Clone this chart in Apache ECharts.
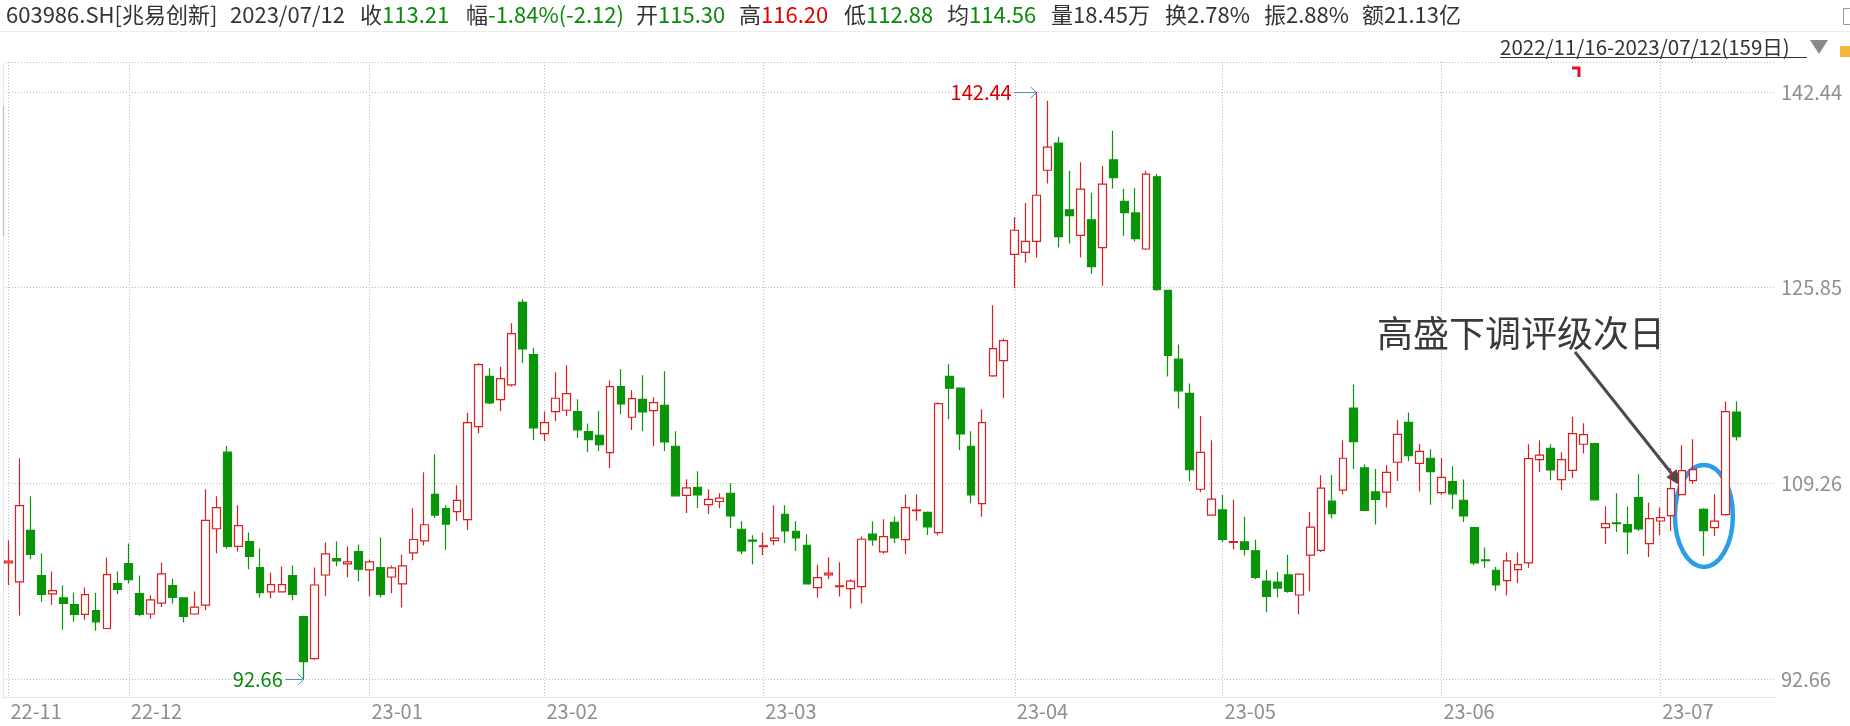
<!DOCTYPE html>
<html><head><meta charset="utf-8">
<script src="https://cdn.jsdelivr.net/npm/echarts@6/dist/echarts.min.js"></script>
<style>html,body{margin:0;padding:0;background:#fff;}#c{width:1850px;height:726px;}</style>
</head><body><div id="c"></div>
<script>
const dates = [
'2022/11/16','2022/11/17','2022/11/18','2022/11/21','2022/11/22','2022/11/23','2022/11/24','2022/11/25','2022/11/28','2022/11/29','2022/11/30',
'2022/12/01','2022/12/02','2022/12/05','2022/12/06','2022/12/07','2022/12/08','2022/12/09','2022/12/12','2022/12/13','2022/12/14','2022/12/15','2022/12/16','2022/12/19','2022/12/20','2022/12/21','2022/12/22','2022/12/23','2022/12/26','2022/12/27','2022/12/28','2022/12/29','2022/12/30',
'2023/01/03','2023/01/04','2023/01/05','2023/01/06','2023/01/09','2023/01/10','2023/01/11','2023/01/12','2023/01/13','2023/01/16','2023/01/17','2023/01/18','2023/01/19','2023/01/20','2023/01/30','2023/01/31',
'2023/02/01','2023/02/02','2023/02/03','2023/02/06','2023/02/07','2023/02/08','2023/02/09','2023/02/10','2023/02/13','2023/02/14','2023/02/15','2023/02/16','2023/02/17','2023/02/20','2023/02/21','2023/02/22','2023/02/23','2023/02/24','2023/02/27','2023/02/28',
'2023/03/01','2023/03/02','2023/03/03','2023/03/06','2023/03/07','2023/03/08','2023/03/09','2023/03/10','2023/03/13','2023/03/14','2023/03/15','2023/03/16','2023/03/17','2023/03/20','2023/03/21','2023/03/22','2023/03/23','2023/03/24','2023/03/27','2023/03/28','2023/03/29','2023/03/30','2023/03/31',
'2023/04/03','2023/04/04','2023/04/06','2023/04/07','2023/04/10','2023/04/11','2023/04/12','2023/04/13','2023/04/14','2023/04/17','2023/04/18','2023/04/19','2023/04/20','2023/04/21','2023/04/24','2023/04/25','2023/04/26','2023/04/27','2023/04/28',
'2023/05/04','2023/05/05','2023/05/08','2023/05/09','2023/05/10','2023/05/11','2023/05/12','2023/05/15','2023/05/16','2023/05/17','2023/05/18','2023/05/19','2023/05/22','2023/05/23','2023/05/24','2023/05/25','2023/05/26','2023/05/29','2023/05/30','2023/05/31',
'2023/06/01','2023/06/02','2023/06/05','2023/06/06','2023/06/07','2023/06/08','2023/06/09','2023/06/12','2023/06/13','2023/06/14','2023/06/15','2023/06/16','2023/06/19','2023/06/20','2023/06/21','2023/06/26','2023/06/27','2023/06/28','2023/06/29','2023/06/30',
'2023/07/03','2023/07/04','2023/07/05','2023/07/06','2023/07/07','2023/07/10','2023/07/11','2023/07/12'
];
const opens = [
102.50,100.89,105.26,101.43,99.87,99.55,98.96,98.14,98.45,96.94,100.75,
102.45,99.90,98.17,99.10,100.58,99.55,98.17,98.93,105.40,111.90,103.90,104.32,102.11,100.04,100.04,101.43,97.94,94.39,101.48,102.87,102.42,103.47,
101.91,102.11,101.31,100.72,103.36,104.38,108.32,107.12,106.85,106.18,114.06,118.33,116.35,117.60,124.61,120.17,
113.47,115.34,115.45,115.34,113.64,113.33,111.86,117.46,114.86,116.38,115.42,115.87,112.40,108.24,108.92,107.45,107.71,108.41,105.36,104.43,
103.89,104.40,106.63,105.19,104.00,100.41,101.49,100.50,100.33,100.50,104.94,103.44,105.95,104.48,106.94,106.80,105.08,118.33,117.32,112.40,107.54,118.36,119.66,
128.68,128.85,129.78,135.81,138.11,132.45,130.29,131.60,129.25,136.69,133.18,132.19,129.13,135.25,125.62,119.78,116.88,108.75,106.55,
107.00,104.24,104.29,103.53,100.96,100.88,101.50,99.78,103.17,103.56,107.74,108.67,115.64,110.56,108.53,108.50,111.04,114.42,110.95,111.38,
108.47,109.40,107.82,105.50,102.76,101.88,101.00,101.94,102.50,111.27,112.23,109.57,110.36,112.57,112.63,105.50,105.90,105.75,108.04,104.14,
106.06,106.52,108.30,109.49,107.05,105.50,106.60,115.30
];
const closes = [
102.65,107.36,103.22,99.84,100.15,99.07,98.14,99.81,97.51,101.51,100.26,
101.09,98.14,99.36,101.57,99.58,97.97,98.76,106.11,107.19,103.90,105.66,103.05,99.98,100.66,100.66,99.84,94.13,100.63,103.27,102.68,102.59,101.97,
102.59,99.84,102.08,102.25,104.49,105.74,106.56,105.80,107.80,114.40,119.32,116.07,118.13,121.95,120.65,113.95,
114.40,116.47,116.86,113.78,112.96,112.54,117.46,115.99,116.44,115.31,116.10,112.76,108.19,108.86,108.27,107.90,107.99,106.49,103.52,104.34,
103.95,104.60,105.22,104.62,100.72,101.26,101.63,100.55,100.95,104.51,104.46,104.74,104.62,107.20,106.99,105.56,116.02,117.32,113.44,108.27,114.40,120.68,121.36,
130.72,129.78,133.69,137.77,130.18,131.96,134.20,127.63,134.63,135.19,132.22,130.01,135.48,125.68,120.10,117.10,110.42,111.88,107.91,
104.49,104.32,103.65,101.27,99.67,100.37,100.09,101.56,105.54,108.84,106.69,111.38,112.79,106.95,107.88,110.19,113.41,111.60,111.97,110.25,
109.75,108.36,106.49,102.50,102.70,100.63,102.67,102.36,111.35,111.64,110.39,111.27,113.47,113.39,107.85,105.84,105.84,105.13,105.39,106.26,
106.35,108.81,110.33,110.42,105.24,106.04,115.33,113.21
];
const lows = [
100.60,98.05,102.82,99.21,98.96,96.83,97.51,97.68,96.75,96.90,99.84,
100.75,97.97,97.77,98.76,99.07,97.45,98.10,98.48,103.33,103.73,103.47,101.97,99.58,99.50,100.00,99.33,92.66,94.30,99.67,102.22,101.29,100.95,
99.67,99.58,99.92,98.73,102.73,103.98,106.31,103.61,106.06,105.30,113.50,115.96,115.39,117.46,119.46,112.93,
112.82,114.55,114.97,113.10,111.92,112.00,110.56,115.11,113.78,113.70,112.43,112.00,108.13,106.74,107.17,106.66,107.14,105.47,103.24,102.39,
103.15,104.03,104.20,103.52,100.68,99.54,101.14,99.65,98.63,99.06,103.95,103.27,104.20,103.24,106.07,104.88,104.85,114.69,112.09,107.56,106.41,118.30,116.50,
125.79,127.97,128.40,134.68,129.25,129.59,128.40,127.04,126.02,134.26,130.26,129.76,129.02,125.59,118.32,115.61,109.43,108.50,106.50,
104.27,103.65,103.14,101.11,98.31,99.58,99.98,98.14,100.09,103.42,106.27,108.30,110.47,106.90,105.76,107.20,109.46,111.12,108.55,107.44,
108.27,107.08,105.98,102.33,102.10,100.15,99.73,100.80,102.10,110.22,109.51,108.69,109.71,111.78,107.80,104.11,105.13,103.26,105.22,103.01,
104.85,105.22,108.25,109.20,103.10,104.79,106.50,112.88
];
const highs = [
104.41,111.39,108.15,103.30,101.77,100.58,99.98,100.41,99.98,102.96,101.77,
104.15,101.43,99.75,102.53,101.17,99.60,100.07,108.75,108.15,112.41,107.39,105.09,103.73,101.68,102.19,102.28,98.02,102.11,104.24,104.32,103.90,104.07,
102.79,104.66,102.28,103.22,107.13,110.20,111.73,107.39,109.10,115.25,119.44,119.01,119.15,122.83,124.86,120.76,
115.34,118.67,119.27,116.38,114.32,115.37,117.97,118.93,117.15,118.42,116.55,118.76,113.67,109.60,110.28,108.75,108.41,109.26,106.04,104.85,
105.08,107.39,107.39,106.04,104.94,102.34,102.98,102.56,101.12,104.74,106.01,106.21,106.43,108.30,108.30,106.86,116.10,119.35,117.40,113.67,115.53,124.35,121.53,
131.82,133.04,142.44,141.70,138.65,135.76,136.49,133.89,136.16,139.16,134.23,134.29,135.76,135.48,125.62,121.03,117.72,114.96,112.90,
108.27,107.85,106.41,104.46,101.90,101.73,103.19,101.60,106.83,109.94,109.94,112.90,117.64,110.87,110.47,110.78,114.62,115.27,112.59,112.14,
111.43,110.70,109.57,105.55,103.80,102.16,103.38,103.38,112.57,112.91,112.57,111.89,114.89,114.35,112.70,107.31,108.41,107.28,110.02,107.62,
107.20,110.53,112.48,112.99,107.14,108.33,116.19,116.20
];
const yTicks = [92.66, 109.26, 125.85, 142.44];
const Y_MIN = 91.13, Y_MAX = 144.99;
const headerItems = [
  ['603986.SH[兆易创新]', '', ''],
  ['2023/07/12', '', ''],
  ['收', '113.21', 'g'],
  ['幅', '-1.84%(-2.12)', 'g'],
  ['开', '115.30', 'g'],
  ['高', '116.20', 'r'],
  ['低', '112.88', 'g'],
  ['均', '114.56', 'g'],
  ['量', '18.45万', 'k'],
  ['换', '2.78%', 'k'],
  ['振', '2.88%', 'k'],
  ['额', '21.13亿', 'k']
];
const headerX = [6, 230, 360, 466, 636, 739, 844, 947, 1051, 1165, 1264, 1362];
const rangeText = '2022/11/16-2023/07/12(159日)';
const noteText = '高盛下调评级次日';
const noteArrowDate = '2023/07/05', noteArrowValue = 108.98;
const noteCircleDate = '2023/07/07', noteCircleValue = 106.49;

const RED = '#dc1e1e', GREEN = '#0a940a', TXT = '#333333', GRAY = '#8e8e8e';
const FONT = '"Noto Sans CJK SC","Noto Sans",sans-serif';

function monthStart(i) {
  if (i >= dates.length) return false;
  if (i === 0) return true;
  return dates[i].slice(0, 7) !== dates[i - 1].slice(0, 7);
}

const chart = echarts.init(document.getElementById('c'), null, {renderer: 'canvas'});
const option = {
  animation: false,
  backgroundColor: '#fff',
  textStyle: {fontFamily: FONT},
  grid: {left: 3, right: 75, top: 62, bottom: 29, containLabel: false},
  xAxis: {
    type: 'category', data: dates, max: 161, boundaryGap: true,
    axisLine: {show: true, lineStyle: {color: '#e4e4e4', width: 1}},
    axisTick: {show: false},
    axisLabel: {
      interval: (i) => monthStart(i),
      formatter: (v) => v ? v.slice(2, 4) + '-' + v.slice(5, 7) : '',
      align: 'left', color: GRAY, fontSize: 20, fontFamily: FONT, margin: 4, padding: [0, 0, 0, 2]
    },
    splitLine: {show: true, interval: (i) => monthStart(i), alignWithLabel: true,
      lineStyle: {color: '#bdbdbd', type: [1, 2], width: 1}}
  },
  yAxis: {
    type: 'value', position: 'right', min: Y_MIN, max: Y_MAX, scale: true,
    axisLine: {show: false},
    axisTick: {show: false, customValues: yTicks},
    axisLabel: {customValues: yTicks, color: GRAY, fontSize: 20, fontFamily: FONT, margin: 6,
      formatter: (v) => Number(v).toFixed(2)},
    splitLine: {show: true, lineStyle: {color: '#bdbdbd', type: [1, 2], width: 1}}
  },
  series: [{
    type: 'candlestick',
    data: opens.map((o, i) => [o, closes[i], lows[i], highs[i]]),
    barWidth: '76%',
    itemStyle: {color: '#ffffff', color0: GREEN, borderColor: RED, borderColor0: GREEN, borderWidth: 1.2}
  }]
};
chart.setOption(option);

const iMax = highs.indexOf(Math.max(...highs));
const iMin = lows.indexOf(Math.min(...lows));
const pMax = chart.convertToPixel({gridIndex: 0}, [iMax, highs[iMax]]);
const pMin = chart.convertToPixel({gridIndex: 0}, [iMin, lows[iMin]]);
const pTip = chart.convertToPixel({gridIndex: 0}, [dates.indexOf(noteArrowDate), noteArrowValue]);
const pCir = chart.convertToPixel({gridIndex: 0}, [dates.indexOf(noteCircleDate), noteCircleValue]);
const gTop = 62, gBottom = 697, gRight = 1775;

const g = [];
// header
headerItems.forEach((it, k) => {
  const rich = {k: {fill: TXT, fontSize: 22, fontFamily: FONT},
    g: {fill: '#0a8a0a', fontSize: 22, fontFamily: FONT},
    r: {fill: '#e00000', fontSize: 22, fontFamily: FONT}};
  const txt = '{k|' + it[0] + '}' + (it[1] ? '{' + it[2] + '|' + it[1] + '}' : '');
  g.push({type: 'text', x: headerX[k], y: 15, silent: true,
    style: {text: txt, rich: rich, verticalAlign: 'middle', align: 'left', fill: TXT, fontSize: 22, fontFamily: FONT}});
});
g.push({type: 'line', silent: true, shape: {x1: 0, y1: 31.5, x2: 1850, y2: 31.5}, style: {stroke: '#ececec', lineWidth: 1}});
// range text
g.push({type: 'text', x: 1500, y: 47, silent: true, style: {text: rangeText, fill: TXT, fontSize: 20.5, fontFamily: FONT, verticalAlign: 'middle'}});
g.push({type: 'line', silent: true, shape: {x1: 1500, y1: 57.5, x2: 1807, y2: 57.5}, style: {stroke: TXT, lineWidth: 1}});
g.push({type: 'polygon', silent: true, shape: {points: [[1810, 40], [1828, 40], [1819, 54]]}, style: {fill: '#8a8a8a'}});
g.push({type: 'rect', silent: true, shape: {x: 1840, y: 46, width: 12, height: 11}, style: {fill: '#f4b73c'}});
g.push({type: 'rect', silent: true, shape: {x: 1843.5, y: 8.5, width: 12, height: 16}, style: {fill: 'none', stroke: '#9a9a9a', lineWidth: 1}});
g.push({type: 'polyline', silent: true, shape: {points: [[1572, 68], [1579, 68], [1579, 77]]}, style: {stroke: '#e0102a', lineWidth: 3, fill: 'none'}});
// top border & left border
g.push({type: 'line', silent: true, shape: {x1: 3, y1: gTop + 0.5, x2: gRight, y2: gTop + 0.5}, style: {stroke: '#bdbdbd', lineWidth: 1, lineDash: [1, 2]}});
g.push({type: 'line', silent: true, shape: {x1: 3.5, y1: gTop, x2: 3.5, y2: gBottom}, style: {stroke: '#e6e6e6', lineWidth: 1}});
g.push({type: 'line', silent: true, shape: {x1: 3.5, y1: 106, x2: 3.5, y2: 236}, style: {stroke: '#c4c4c4', lineWidth: 1.5}});
// max label
g.push({type: 'text', x: pMax[0] - 25, y: pMax[1], silent: true, style: {text: highs[iMax].toFixed(2), fill: '#d40000', fontSize: 20, fontFamily: FONT, align: 'right', verticalAlign: 'middle'}});
g.push({type: 'line', silent: true, shape: {x1: pMax[0] - 23, y1: pMax[1] + 0.5, x2: pMax[0], y2: pMax[1] + 0.5}, style: {stroke: '#4d8fae', lineWidth: 1}});
g.push({type: 'polyline', silent: true, shape: {points: [[pMax[0] - 6, pMax[1] - 5], [pMax[0], pMax[1] + 0.5], [pMax[0] - 6, pMax[1] + 6]]}, style: {stroke: '#4d8fae', lineWidth: 1, fill: 'none'}});
// min label
g.push({type: 'text', x: pMin[0] - 21, y: pMin[1], silent: true, style: {text: lows[iMin].toFixed(2), fill: '#0a8a0a', fontSize: 20, fontFamily: FONT, align: 'right', verticalAlign: 'middle'}});
g.push({type: 'line', silent: true, shape: {x1: pMin[0] - 18, y1: pMin[1] + 0.5, x2: pMin[0], y2: pMin[1] + 0.5}, style: {stroke: '#4d8fae', lineWidth: 1}});
g.push({type: 'polyline', silent: true, shape: {points: [[pMin[0] - 6, pMin[1] - 5], [pMin[0], pMin[1] + 0.5], [pMin[0] - 6, pMin[1] + 6]]}, style: {stroke: '#4d8fae', lineWidth: 1, fill: 'none'}});
// note text and arrow
g.push({type: 'text', x: 1377, y: 333, silent: true, style: {text: noteText, fill: '#3a3a3a', fontSize: 36, fontFamily: FONT, verticalAlign: 'middle'}});
const sx = 1575, sy = 352, tx = pTip[0], ty = pTip[1];
const ang = Math.atan2(ty - sy, tx - sx), hl = 17, hw = 6.5;
const bx = tx - hl * Math.cos(ang), by = ty - hl * Math.sin(ang);
g.push({type: 'line', silent: true, shape: {x1: sx, y1: sy, x2: bx, y2: by}, style: {stroke: '#4a4a4a', lineWidth: 3}});
g.push({type: 'polygon', silent: true, shape: {points: [[tx, ty],
  [bx + hw * Math.sin(ang), by - hw * Math.cos(ang)], [bx - hw * Math.sin(ang), by + hw * Math.cos(ang)]]}, style: {fill: '#4a4a4a'}});
g.push({type: 'ellipse', silent: true, shape: {cx: pCir[0], cy: pCir[1], rx: 29, ry: 51}, style: {fill: 'none', stroke: '#2b9de9', lineWidth: 4.5}});
chart.setOption({graphic: g});
</script></body></html>
